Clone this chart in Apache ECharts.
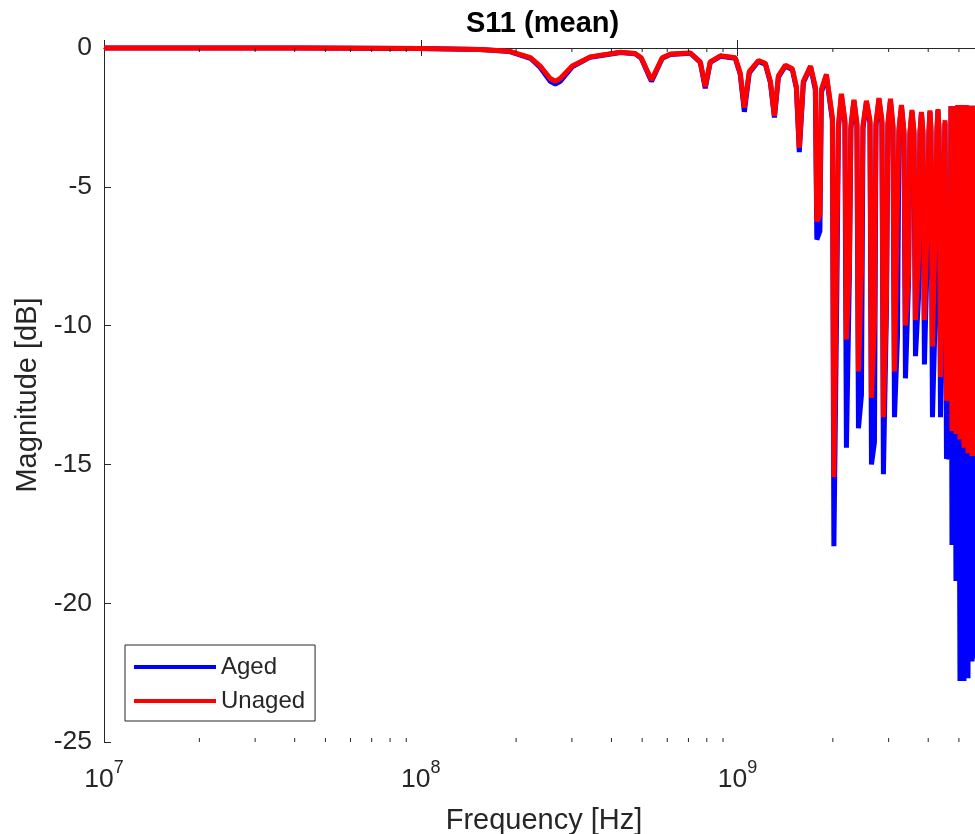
<!DOCTYPE html>
<html>
<head>
<meta charset="utf-8">
<title>S11 (mean)</title>
<script src="https://cdn.jsdelivr.net/npm/echarts@6.0.0/dist/echarts.min.js"></script>
<style>
    html, body { margin: 0; padding: 0; background: #fff; }
    #chart { width: 975px; height: 834px; }
</style>
</head>
<body>
<div id="chart"></div>
<script>
// frequency samples [Hz]
var freqHz = [
    1e7, 4.16e7, 1.0e8, 1.54e8, 1.91e8, 2.22e8, 2.383e8, 2.563e8, 2.66e8, 2.756e8,
    3.007e8, 3.428e8, 4.27e8, 4.75e8, 4.966e8, 5.227e8, 5.35e8, 5.458e8, 5.787e8, 6.14e8,
    7.10e8, 7.63e8, 7.91e8, 8.20e8, 8.83e8, 9.84e8, 1.02e9, 1.051e9, 1.089e9, 1.164e9,
    1.224e9, 1.27e9, 1.308e9, 1.346e9, 1.416e9, 1.49e9, 1.534e9, 1.567e9, 1.614e9, 1.70e9,
    1.761e9, 1.780e9, 1.820e9, 1.840e9, 1.908e9,
    1.993e9, 2.015e9, 2.059e9, 2.082e9, 2.128e9,
    2.183e9, 2.207e9, 2.255e9, 2.280e9, 2.331e9,
    2.382e9, 2.409e9, 2.462e9, 2.489e9, 2.553e9,
    2.619e9, 2.648e9, 2.706e9, 2.736e9, 2.796e9,
    2.857e9, 2.888e9, 2.952e9, 2.984e9, 3.040e9,
    3.096e9, 3.130e9, 3.199e9, 3.234e9, 3.293e9,
    3.353e9, 3.390e9, 3.465e9, 3.503e9, 3.554e9,
    3.606e9, 3.646e9, 3.726e9, 3.767e9, 3.808e9,
    3.849e9, 3.891e9, 3.977e9, 4.021e9, 4.050e9,
    4.080e9, 4.125e9, 4.216e9, 4.262e9, 4.294e9,
    4.326e9, 4.373e9, 4.470e9, 4.519e9,
    4.568e9, 4.669e9, 4.720e9,
    4.754e9, 4.824e9, 4.894e9, 4.967e9, 5.039e9, 5.112e9, 5.188e9, 5.263e9, 5.341e9, 5.420e9,
    5.499e9, 5.579e9, 5.661e9, 5.744e9, 5.830e9, 5.914e9, 6.0e9
];

// S11 magnitude [dB], aged cable (blue)
var agedDb = [
    0, 0, -0.02, -0.05, -0.13, -0.37, -0.7, -1.2, -1.3, -1.2,
    -0.68, -0.33, -0.16, -0.21, -0.37, -0.95, -1.2, -1.0, -0.37, -0.23,
    -0.19, -0.52, -1.45, -0.52, -0.3, -0.37, -0.95, -2.3, -0.9, -0.48,
    -0.58, -1.25, -2.5, -1.05, -0.65, -0.78, -1.45, -3.75, -1.25, -0.68,
    -1.5, -6.9, -6.6, -1.6, -1.0,
    -2.6, -17.95, -8.7, -2.9, -1.7,
    -2.7, -14.4, -8.2, -2.9, -1.9,
    -2.8, -13.7, -12.5, -2.9, -1.95,
    -2.7, -15.0, -14.2, -2.8, -1.85,
    -2.7, -15.35, -9.5, -2.8, -1.9,
    -2.9, -13.3, -10.4, -3.0, -2.1,
    -3.1, -11.9, -8.5, -3.1, -2.3,
    -3.1, -11.1, -9.0, -3.1, -2.35,
    -3.1, -11.4, -7.15, -3.1, -2.3,
    -3.0, -13.3, -9.3, -3.0, -2.25,
    -3.0, -13.3, -6.0, -2.7,
    -14.8, -14.5, -2.1,
    -17.9, -2.1, -19.2, -2.05, -22.8, -2.05, -22.8, -2.05, -22.7, -2.08,
    -22.1, -2.08, -22.0, -2.1, -21.8, -2.1, -21.5
];

// S11 magnitude [dB], unaged cable (red)
var unagedDb = [
    0, 0, -0.02, -0.05, -0.12, -0.35, -0.65, -1.1, -1.2, -1.1,
    -0.65, -0.32, -0.15, -0.2, -0.35, -0.9, -1.15, -0.95, -0.35, -0.22,
    -0.18, -0.5, -1.4, -0.5, -0.28, -0.35, -0.9, -2.15, -0.85, -0.45,
    -0.55, -1.2, -2.45, -1.0, -0.62, -0.75, -1.4, -3.6, -1.2, -0.65,
    -1.4, -6.25, -6.0, -1.5, -0.95,
    -2.5, -15.45, -7.0, -2.8, -1.65,
    -2.6, -10.5, -7.9, -2.8, -1.87,
    -2.7, -11.65, -8.0, -2.8, -1.9,
    -2.6, -12.6, -9.9, -2.7, -1.8,
    -2.6, -13.3, -9.0, -2.7, -1.83,
    -2.8, -11.65, -5.6, -2.9, -2.05,
    -3.0, -10.0, -8.2, -3.0, -2.23,
    -3.0, -9.8, -7.6, -3.0, -2.3,
    -3.0, -9.8, -6.0, -3.0, -2.25,
    -2.9, -10.75, -6.0, -2.9, -2.2,
    -2.9, -11.85, -5.0, -2.6,
    -12.7, -12.4, -2.1,
    -13.8, -2.1, -13.9, -2.05, -14.1, -2.05, -14.4, -2.05, -14.6, -2.08,
    -14.7, -2.08, -14.7, -2.1, -14.6, -2.1, -14.5
];

// minor ticks of the log x axis (2..9 per decade)
var minorTickFreqs = [
    2e7, 3e7, 4e7, 5e7, 6e7, 7e7, 8e7, 9e7,
    2e8, 3e8, 4e8, 5e8, 6e8, 7e8, 8e8, 9e8,
    2e9, 3e9, 4e9, 5e9
];

var yTicks = { min: -25, max: 0, step: 5 };

var FONT = '"Liberation Sans", Arial, Helvetica, sans-serif';
var AXIS_COLOR = '#262626';

function pairs(ys) {
    return freqHz.map(function (f, i) { return [f, ys[i]]; });
}

var chart = echarts.init(document.getElementById('chart'));

var option = {
    animation: false,
    backgroundColor: '#fff',
    title: {
        text: 'S11 (mean)',
        left: 466,
        top: 9,
        padding: 0,
        textStyle: { fontFamily: FONT, fontSize: 29, fontWeight: 'bold', color: '#000' }
    },
    legend: {
        data: ['Aged', 'Unaged'],
        orient: 'vertical',
        left: 125,
        top: 645,
        icon: 'rect',
        itemWidth: 82,
        itemHeight: 4,
        itemGap: 10,
        padding: [10, 10, 8, 9],
        borderColor: AXIS_COLOR,
        borderWidth: 1,
        backgroundColor: '#fff',
        textStyle: { fontFamily: FONT, fontSize: 24, color: AXIS_COLOR }
    },
    // plot box runs past the right edge of the picture (cropped figure)
    grid: { left: 104, top: 48, width: 880, height: 694, outerBoundsMode: 'none' },
    xAxis: [
        {
            type: 'log',
            logBase: 10,
            min: 1e7,
            max: 6e9,
            position: 'bottom',
            name: 'Frequency [Hz]',
            nameLocation: 'middle',
            nameGap: 64,
            nameTextStyle: { fontFamily: FONT, fontSize: 29, color: AXIS_COLOR },
            axisLine: { lineStyle: { color: AXIS_COLOR, width: 1 } },
            axisTick: { inside: true, length: 8, lineStyle: { color: AXIS_COLOR } },
            axisLabel: {
                showMaxLabel: false,
                margin: 17,
                formatter: function (v) {
                    return '{b|10}{s|' + Math.round(Math.log10(v)) + '}';
                },
                rich: {
                    b: { fontFamily: FONT, fontSize: 26.5, lineHeight: 34, color: AXIS_COLOR, verticalAlign: 'bottom' },
                    s: { fontFamily: FONT, fontSize: 18, lineHeight: 18, color: AXIS_COLOR, verticalAlign: 'top' }
                }
            },
            splitLine: { show: false }
        },
        {
            // top edge of the box
            type: 'log',
            logBase: 10,
            min: 1e7,
            max: 6e9,
            position: 'top',
            axisLine: { lineStyle: { color: AXIS_COLOR, width: 1 } },
            axisTick: { inside: true, length: 8, lineStyle: { color: AXIS_COLOR } },
            axisLabel: { show: false },
            splitLine: { show: false }
        }
    ],
    yAxis: {
        type: 'value',
        min: yTicks.min,
        max: yTicks.max,
        interval: yTicks.step,
        name: 'Magnitude [dB]',
        nameLocation: 'middle',
        nameGap: 62,
        nameTextStyle: { fontFamily: FONT, fontSize: 29, color: AXIS_COLOR },
        axisLine: { show: true, lineStyle: { color: AXIS_COLOR, width: 1 } },
        axisTick: { show: true, inside: true, length: 7, lineStyle: { color: AXIS_COLOR } },
        axisLabel: { margin: 12, fontFamily: FONT, fontSize: 26.5, color: AXIS_COLOR },
        splitLine: { show: false }
    },
    series: [
        {
            name: 'Aged',
            type: 'line',
            data: pairs(agedDb),
            showSymbol: false,
            symbol: 'none',
            clip: false,
            color: '#0000ff',
            lineStyle: { color: '#0000ff', width: 5 },
            emphasis: { disabled: true }
        },
        {
            name: 'Unaged',
            type: 'line',
            data: pairs(unagedDb),
            showSymbol: false,
            symbol: 'none',
            clip: false,
            color: '#ff0000',
            lineStyle: { color: '#ff0000', width: 5 },
            emphasis: { disabled: true }
        },
        {
            // minor ticks on bottom and top edges
            type: 'custom',
            silent: true,
            clip: false,
            z: 5,
            data: minorTickFreqs.map(function (f) { return [f, yTicks.min]; }),
            renderItem: function (params, api) {
                var bottom = api.coord([api.value(0), yTicks.min]);
                var top = api.coord([api.value(0), yTicks.max]);
                return {
                    type: 'group',
                    children: [
                        { type: 'line', shape: { x1: bottom[0], y1: bottom[1], x2: bottom[0], y2: bottom[1] - 4 }, style: { stroke: AXIS_COLOR, lineWidth: 1 } },
                        { type: 'line', shape: { x1: top[0], y1: top[1], x2: top[0], y2: top[1] + 4 }, style: { stroke: AXIS_COLOR, lineWidth: 1 } }
                    ]
                };
            }
        }
    ]
};

chart.setOption(option);
</script>
</body>
</html>
